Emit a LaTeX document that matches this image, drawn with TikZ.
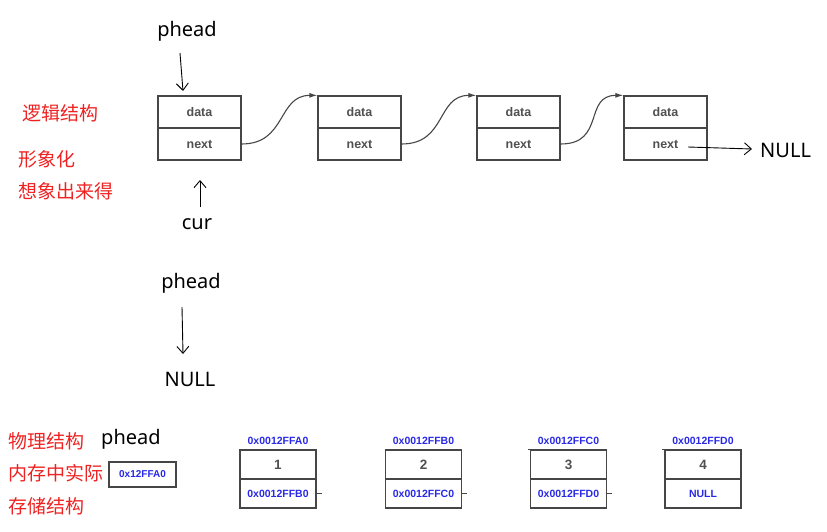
\documentclass[tikz,border=0pt]{standalone}
\usepackage{fontspec}
\setmainfont{Noto Sans}
\newfontfamily\cjk{Noto Sans CJK SC}
\newfontfamily\bsans{Liberation Sans}
\usetikzlibrary{arrows.meta}
\definecolor{redtxt}{RGB}{238,34,34}
\definecolor{bluetxt}{RGB}{40,40,230}
\definecolor{boxline}{RGB}{70,70,70}
\definecolor{boxtxt}{RGB}{80,80,80}
\begin{document}
\begin{tikzpicture}[x=1pt,y=-1pt,
  cell/.style={draw=boxline,line width=1.3pt,minimum width=83pt,minimum height=32pt,inner sep=0pt,
    font=\bsans\bfseries\fontsize{12.5}{14}\selectfont,text=boxtxt},
  mcell/.style={draw=boxline,line width=1.3pt,minimum width=76pt,minimum height=29pt,inner sep=0pt},
  numtxt/.style={font=\bsans\bfseries\fontsize{13.5}{15}\selectfont,text=boxtxt},
  addr/.style={font=\bsans\bfseries\fontsize{10.5}{12}\selectfont,text=bluetxt,inner sep=0pt},
  big/.style={font=\fontsize{20}{24}\selectfont,inner sep=0pt},
  redlbl/.style={font=\cjk\fontsize{19}{22}\selectfont,text=redtxt,inner sep=0pt,anchor=west},
  hand/.style={line width=0.9pt,-{Straight Barb[length=7pt,width=12pt]}},
  link/.style={draw=boxline,line width=1.1pt,-{Latex[length=8pt,width=5pt]}}]
\useasboundingbox (0,0) rectangle (827,532);

% logical structure
\node[cell] (d1) at (199.5,112) {data};
\node[cell] (n1) at (199.5,144) {next};
\node[cell] (d2) at (359.5,112) {data};
\node[cell] (n2) at (359.5,144) {next};
\node[cell] (d3) at (518.5,112) {data};
\node[cell] (n3) at (518.5,144) {next};
\node[cell] (d4) at (665.5,112) {data};
\node[cell] (n4) at (665.5,144) {next};

\draw[link] (n1.east) .. controls +(45,0) and +(-40,0) .. (d2.north west);
\draw[link] (n2.east) .. controls +(45,0) and +(-40,0) .. (d3.north west);
\draw[link] (n3.east) .. controls +(45,0) and +(-40,0) .. (d4.north west);

\node[big,anchor=west] (null1) at (760,150) {NULL};
\coordinate (ns) at (688,147);
\draw[hand] (ns) -- (752,149);

\node[big] (ph1) at (187,31) {phead};
\coordinate (p1s) at (180,53);
\coordinate (p1e) at (183,91);
\draw[hand] (p1s) -- (p1e);

\node[big] (cur) at (197,224) {cur};
\coordinate (cs) at (200,207);
\coordinate (ce) at (200,180);
\draw[hand] (cs) -- (ce);

\node[redlbl] (l1) at (22,113) {逻辑结构};
\node[redlbl] (l2) at (18,159) {形象化};
\node[redlbl] (l3) at (18,191) {想象出来得};

% empty list
\node[big] (ph2) at (191,283) {phead};
\node[big] (null2) at (190,379) {NULL};
\coordinate (p2s) at (182,307);
\coordinate (p2e) at (183,354);
\draw[hand] (p2s) -- (p2e);

% physical structure
\node[redlbl] (l4) at (8,441) {物理结构};
\node[redlbl] (l5) at (8,473) {内存中实际};
\node[redlbl] (l6) at (8,506) {存储结构};
\node[big,anchor=west] (ph3) at (101,439) {phead};
\node[draw=boxline,line width=1.1pt,minimum width=67pt,minimum height=25pt,inner sep=0pt,
  font=\bsans\bfseries\fontsize{10}{12}\selectfont,text=bluetxt] (pbox) at (142.5,474.5) {0x12FFA0};

\foreach \n/\x/\v/\a/\p in {A/278/1/0x0012FFA0/0x0012FFB0, B/423.5/2/0x0012FFB0/0x0012FFC0,
    C/568.5/3/0x0012FFC0/0x0012FFD0, D/703/4/0x0012FFD0/NULL}{
  \node[mcell,numtxt] (t\n) at (\x,464.5) {\v};
  \node[mcell,addr] (b\n) at (\x,493.5) {\p};
  \node[addr] (a\n) at (\x,441) {\a};
}
\draw[boxline,line width=0.8pt] (bA.east) -- ++(5,0);
\draw[boxline,line width=0.8pt] (bB.east) -- ++(5,0);
\draw[boxline,line width=0.8pt] (bC.east) -- ++(5,0);
\draw[boxline,line width=0.8pt] (tC.north west) -- ++(-2,0);
\draw[boxline,line width=0.8pt] (tD.north west) -- ++(-2,0);
\end{tikzpicture}
\end{document}
